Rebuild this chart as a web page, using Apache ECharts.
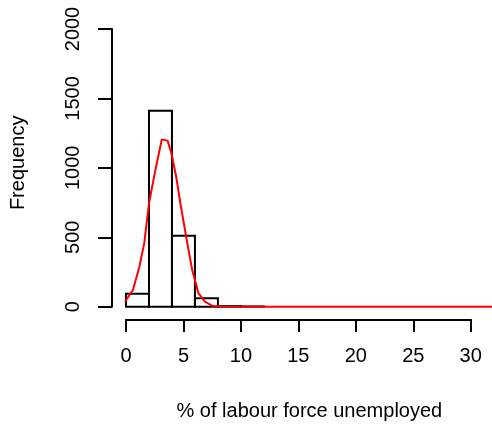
<!DOCTYPE html>
<html><head><meta charset="utf-8">
<script src="https://cdn.jsdelivr.net/npm/echarts@6/dist/echarts.min.js"></script>
<style>html,body{margin:0;padding:0;background:#fff}#c{width:492px;height:431px}</style>
</head><body><div id="c"></div>
<script>
var binStarts = [0, 2, 4, 6, 8, 10];
var binWidth = 2;
var counts = [93, 1412, 511, 60, 4, 2];
var densX = [0, 0.72, 1.3, 1.74, 2.17, 2.75, 3.33, 3.85, 4.2, 4.63, 5.06, 5.64, 6.08, 6.65, 7.23, 7.95, 8.6, 10, 15, 20, 25, 30, 33.2];
var densY = [36, 120, 288, 456, 745, 985, 1205, 1196, 1105, 936, 720, 456, 264, 96, 36, 5, 1, 0, 0, 0, 0, 0, 0];
var xTicks = [0, 5, 10, 15, 20, 25, 30];
var yTicks = [0, 500, 1000, 1500, 2000];
var xDataMax = 33.2;

var FONT = 'Liberation Sans, Arial, sans-serif';
var chart = echarts.init(document.getElementById('c'), null, {renderer: 'canvas'});
var barData = binStarts.map(function (s, i) { return [s, s + binWidth, counts[i]]; });
var lineData = densX.map(function (x, i) { return [x, densY[i]]; });

var gLeft = 125, gTop = 29, gBottom = 124.3, gWidth = 345.7;
var pxPerUnit = gWidth / (xTicks[xTicks.length - 1] - xTicks[0]);

chart.setOption({
  animation: false,
  backgroundColor: '#fff',
  grid: [
    {left: gLeft, width: gWidth, top: gTop, bottom: gBottom, containLabel: false},
    {left: gLeft, width: pxPerUnit * xDataMax, top: gTop, bottom: gBottom, containLabel: false}
  ],
  xAxis: [{
    gridIndex: 0,
    type: 'value', min: xTicks[0], max: xTicks[xTicks.length - 1], interval: 5,
    offset: 12.6,
    axisLine: {show: true, onZero: false, lineStyle: {color: '#000', width: 2}},
    axisTick: {show: true, length: 12.7, lineStyle: {color: '#000', width: 2}},
    axisLabel: {color: '#000', fontFamily: FONT, fontSize: 20, margin: 27, formatter: function (v) { return String(v); }},
    splitLine: {show: false},
    name: '% of labour force unemployed', nameLocation: 'middle', nameGap: 82,
    nameTextStyle: {color: '#000', fontFamily: FONT, fontSize: 20, padding: [0, 0, 0, 22]}
  }, {
    gridIndex: 1, type: 'value', min: 0, max: xDataMax, show: false
  }],
  yAxis: [{
    gridIndex: 0,
    type: 'value', min: yTicks[0], max: yTicks[yTicks.length - 1], interval: 500,
    offset: 14,
    axisLine: {show: true, onZero: false, lineStyle: {color: '#000', width: 2}},
    axisTick: {show: true, length: 14, lineStyle: {color: '#000', width: 2}},
    axisLabel: {color: '#000', fontFamily: FONT, fontSize: 20, margin: 29, rotate: 90, formatter: function (v) { return String(v); }},
    splitLine: {show: false},
    name: 'Frequency', nameLocation: 'middle', nameGap: 84, nameRotate: 90,
    nameTextStyle: {color: '#000', fontFamily: FONT, fontSize: 20, padding: [0, 0, 0, 10]}
  }, {
    gridIndex: 1, type: 'value', min: yTicks[0], max: yTicks[yTicks.length - 1], show: false
  }],
  series: [{
    type: 'custom',
    xAxisIndex: 0, yAxisIndex: 0,
    data: barData,
    clip: false,
    renderItem: function (params, api) {
      var p0 = api.coord([api.value(0), 0]);
      var p1 = api.coord([api.value(1), api.value(2)]);
      return {
        type: 'rect',
        shape: {x: p0[0], y: p1[1], width: p1[0] - p0[0], height: p0[1] - p1[1]},
        style: {fill: 'none', stroke: '#000', lineWidth: 2}
      };
    },
    encode: {x: [0, 1], y: 2}
  }, {
    type: 'line',
    xAxisIndex: 1, yAxisIndex: 1,
    data: lineData,
    clip: false,
    showSymbol: false,
    symbol: 'none',
    lineStyle: {color: '#ff0000', width: 2},
    z: 5
  }]
});
</script></body></html>
